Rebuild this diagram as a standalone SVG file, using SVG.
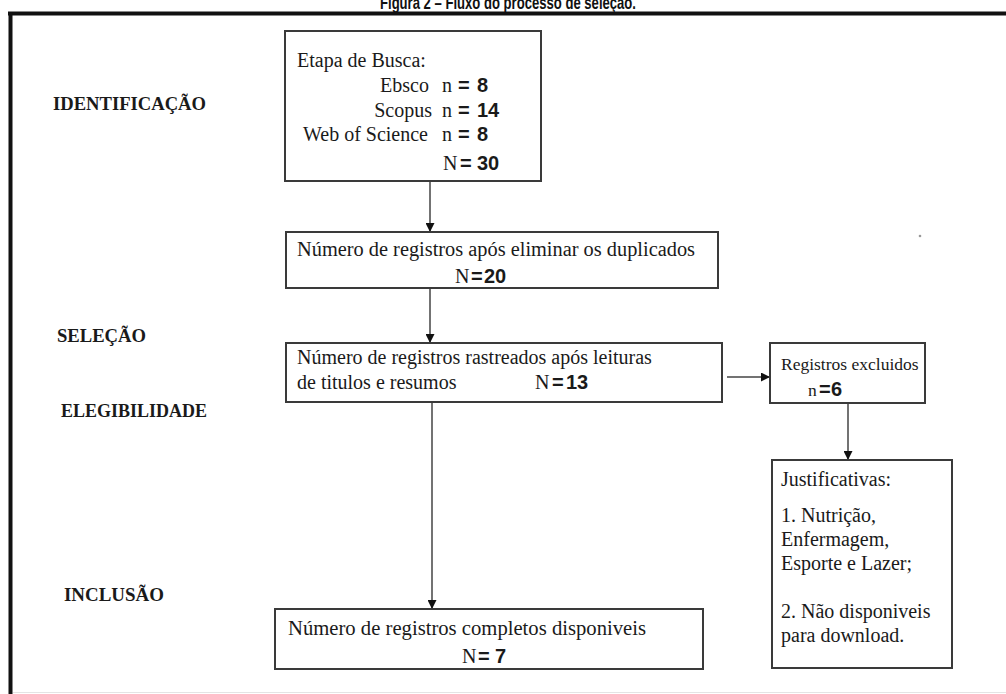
<svg xmlns="http://www.w3.org/2000/svg" width="1006" height="694" viewBox="0 0 1006 694">
<defs>
<marker id="ah" viewBox="0 0 10 10" refX="10" refY="5" markerWidth="9" markerHeight="9" markerUnits="userSpaceOnUse" orient="auto">
<path d="M0,0 L10,5 L0,10 z" fill="#111"/>
</marker>
<style>
.box{fill:#fff;stroke:#3a3a3a;stroke-width:2}
.t{font-family:"Liberation Serif","Times New Roman",serif;font-size:20px;fill:#1a1a1a}
.s{font-size:17.5px}
.lbl{font-family:"Liberation Serif","Times New Roman",serif;font-size:18.5px;font-weight:bold;fill:#1a1a1a}
.num{font-family:"Liberation Sans",Arial,sans-serif;font-size:20px;font-weight:bold;fill:#1a1a1a}
.conn{stroke:#444;stroke-width:1.5;fill:none}
</style>
</defs>
<rect width="1006" height="694" fill="#fff"/>
<text x="508" y="9" text-anchor="middle" font-family="'Liberation Sans',Arial,sans-serif" font-size="19" font-weight="bold" fill="#111" textLength="256" lengthAdjust="spacingAndGlyphs">Figura 2 – Fluxo do processo de seleção.</text>
<g id="frame">
<line x1="8" y1="13.5" x2="1006" y2="13.5" stroke="#111" stroke-width="4"/>
<line x1="10.5" y1="12" x2="10.5" y2="694" stroke="#111" stroke-width="4"/>
<line x1="13" y1="692.5" x2="1006" y2="692.5" stroke="#e4e4e4" stroke-width="1"/>
<circle cx="920" cy="236" r="1.3" fill="#999"/>
</g>
<g id="stage-labels">
<text class="lbl" x="53" y="110" textLength="153" lengthAdjust="spacingAndGlyphs">IDENTIFICAÇÃO</text>
<text class="lbl" x="57" y="342" textLength="89" lengthAdjust="spacingAndGlyphs">SELEÇÃO</text>
<text class="lbl" x="61" y="417" textLength="146" lengthAdjust="spacingAndGlyphs">ELEGIBILIDADE</text>
<text class="lbl" x="64" y="601" textLength="100" lengthAdjust="spacingAndGlyphs">INCLUSÃO</text>
</g>
<g id="connectors">
<line class="conn" x1="430" y1="181" x2="430" y2="232" marker-end="url(#ah)"/>
<line class="conn" x1="430" y1="288" x2="430" y2="343" marker-end="url(#ah)"/>
<line class="conn" x1="727" y1="377" x2="770" y2="377" marker-end="url(#ah)"/>
<line class="conn" x1="848" y1="403" x2="848" y2="460" marker-end="url(#ah)"/>
<line class="conn" x1="432" y1="402" x2="432" y2="609" marker-end="url(#ah)"/>
</g>
<g id="busca">
<rect class="box" x="285" y="31" width="256" height="150"/>
<text class="t" x="297" y="67">Etapa de Busca:</text>
<text class="t" x="429" y="92" text-anchor="end">Ebsco</text>
<text class="t" x="432" y="117" text-anchor="end">Scopus</text>
<text class="t" x="428" y="141" text-anchor="end">Web of Science</text>
<text class="t" x="442" y="92">n</text><text class="num" x="458" y="92">=</text><text class="num" x="477" y="92">8</text>
<text class="t" x="442" y="117">n</text><text class="num" x="458" y="117">=</text><text class="num" x="477" y="117">14</text>
<text class="t" x="442" y="141">n</text><text class="num" x="458" y="141">=</text><text class="num" x="477" y="141">8</text>
<text class="t" x="443" y="170">N</text><text class="num" x="460" y="170">=</text><text class="num" x="477" y="170">30</text>
</g>
<g id="duplicados">
<rect class="box" x="286" y="232" width="432" height="56"/>
<text class="t" x="297" y="256" textLength="398" lengthAdjust="spacingAndGlyphs">Número de registros após eliminar os duplicados</text>
<text class="t" x="455" y="283">N</text><text class="num" x="471" y="283">=</text><text class="num" x="484" y="283">20</text>
</g>
<g id="rastreados">
<rect class="box" x="286" y="343" width="436" height="59"/>
<text class="t" x="297" y="364">Número de registros rastreados após leituras</text>
<text class="t" x="297" y="389">de titulos e resumos</text>
<text class="t" x="535" y="389">N</text><text class="num" x="552" y="389">=</text><text class="num" x="566" y="389">13</text>
</g>
<g id="excluidos">
<rect class="box" x="770" y="343" width="155" height="60"/>
<text class="t s" x="781" y="370">Registros excluidos</text>
<text class="t s" x="808" y="396">n</text><text class="num" x="819" y="396">=</text><text class="num" x="831" y="396">6</text>
</g>
<g id="justificativas">
<rect class="box" x="772" y="460" width="180" height="208"/>
<text class="t" x="781" y="486">Justificativas:</text>
<text class="t" x="781" y="522">1. Nutrição,</text>
<text class="t" x="781" y="546">Enfermagem,</text>
<text class="t" x="781" y="570">Esporte e Lazer;</text>
<text class="t" x="781" y="618">2. Não disponiveis</text>
<text class="t" x="781" y="642">para download.</text>
</g>
<g id="completos">
<rect class="box" x="275" y="609" width="428" height="60"/>
<text class="t" x="288" y="635" textLength="358" lengthAdjust="spacingAndGlyphs">Número de registros completos disponiveis</text>
<text class="t" x="462" y="663">N</text><text class="num" x="478" y="663">=</text><text class="num" x="495" y="663">7</text>
</g>
</svg>
